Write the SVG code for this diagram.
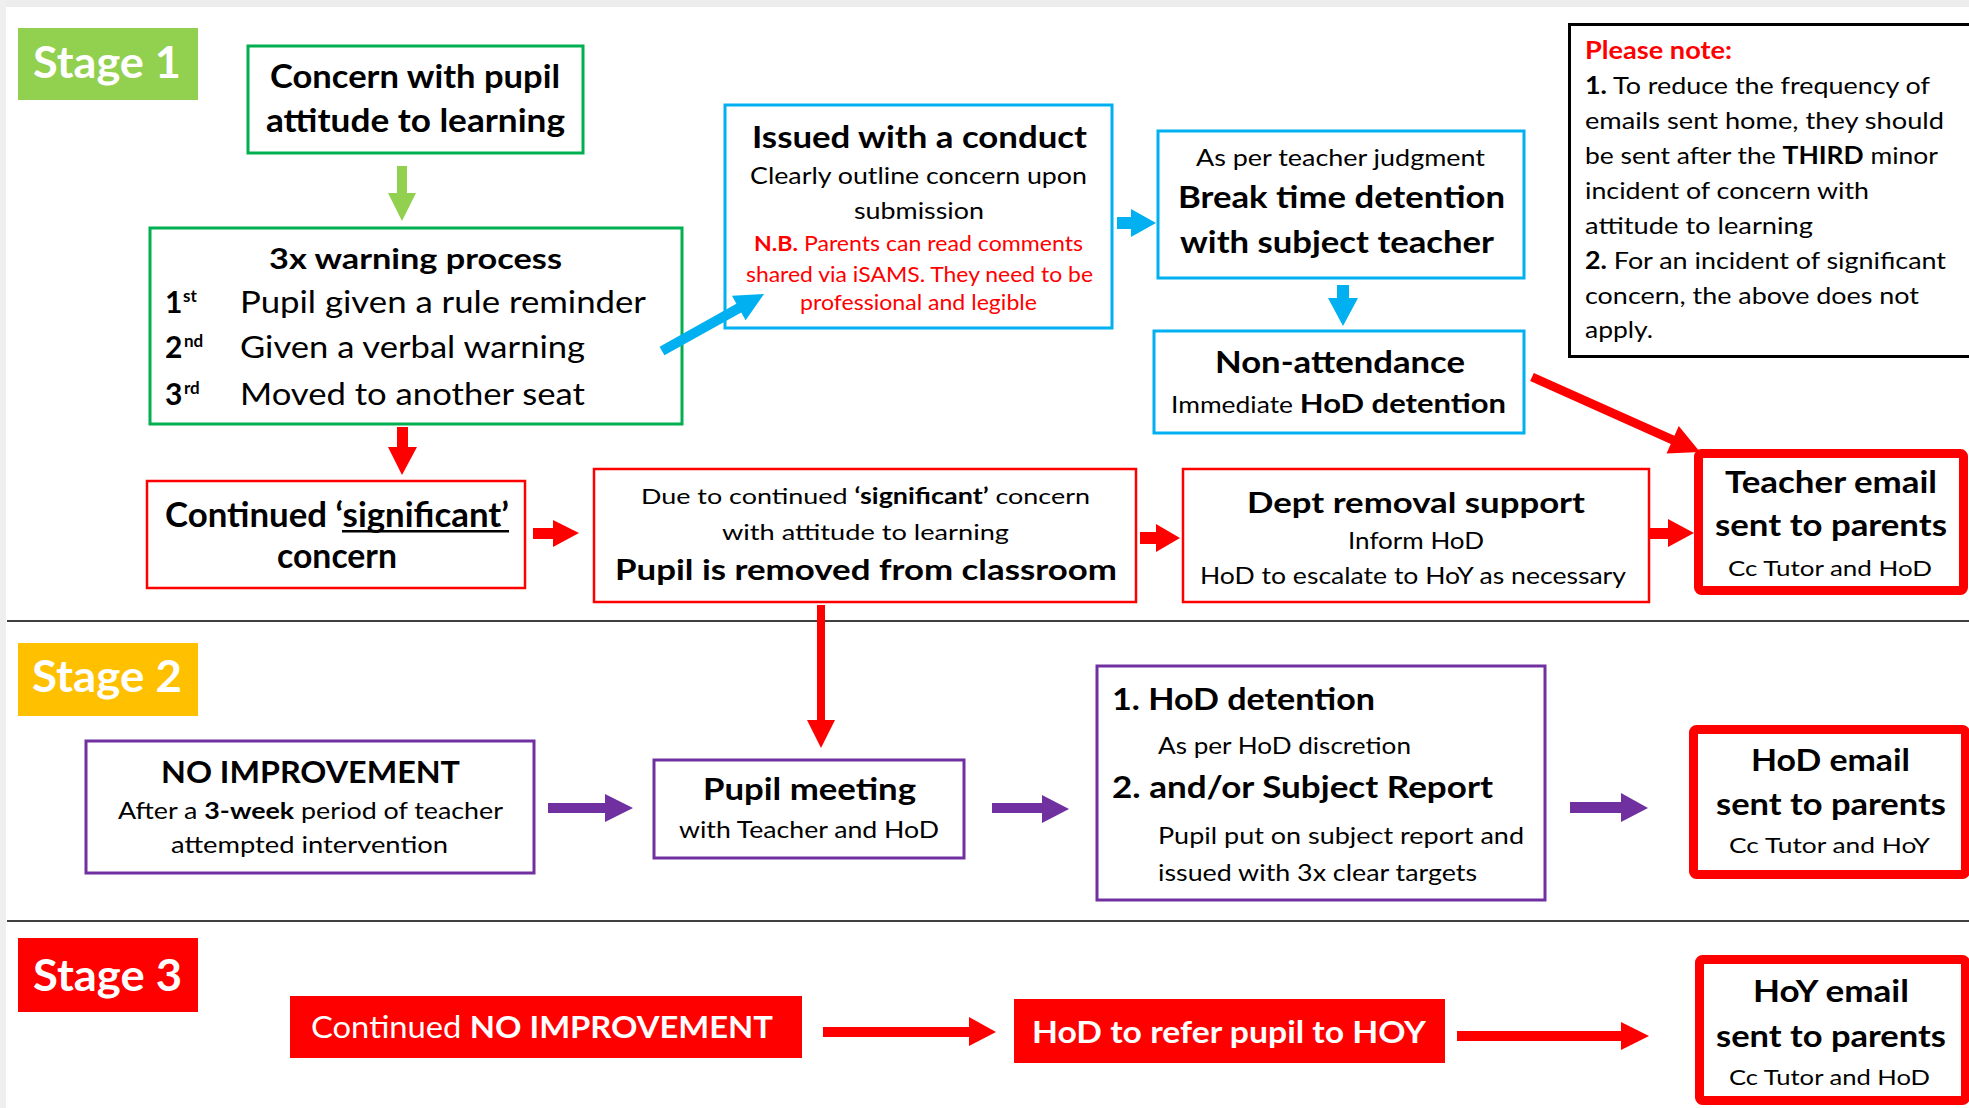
<svg xmlns="http://www.w3.org/2000/svg" width="1969" height="1108" viewBox="0 0 1969 1108">
<style>
text{font-family:Lato,"Open Sans","Liberation Sans",sans-serif;fill:#000}
.b{font-weight:700}
.w{fill:#fff}
.r{fill:#FF0000}
.gbox{fill:#fff;stroke:#00B050;stroke-width:3}
.bbox{fill:#fff;stroke:#00B0F0;stroke-width:3}
.rbox{fill:#fff;stroke:#FF0000;stroke-width:2.5}
.pbox{fill:#fff;stroke:#7030A0;stroke-width:3}
.tbox{fill:#fff;stroke:#FF0000;stroke-width:9}
.div{stroke:#404040;stroke-width:2}
</style>
<rect x="0" y="0" width="1969" height="1108" fill="#fff"/>
<rect x="0" y="0" width="1969" height="7" fill="#EDEDED"/>
<rect x="0" y="0" width="6" height="1108" fill="#EFEFEF"/>
<line class="div" x1="7" y1="621" x2="1969" y2="621"/>
<line class="div" x1="7" y1="921" x2="1969" y2="921"/>

<g id="stage1"><rect x="18" y="28" width="180" height="72" fill="#92D050"/><text class="b w" x="33" y="78" font-size="43" textLength="148" lengthAdjust="spacingAndGlyphs">Stage 1</text></g>
<g id="stage2"><rect x="18" y="643" width="180" height="73" fill="#FFC000"/><text class="b w" x="32" y="692" font-size="43" textLength="150" lengthAdjust="spacingAndGlyphs">Stage 2</text></g>
<g id="stage3"><rect x="18" y="938" width="180" height="74" fill="#FF0000"/><text class="b w" x="33" y="991" font-size="43" textLength="149" lengthAdjust="spacingAndGlyphs">Stage 3</text></g>

<g id="concern"><rect class="gbox" x="248" y="46" width="335" height="107"/>
<text class="b" x="270" y="88" font-size="33" textLength="290" lengthAdjust="spacingAndGlyphs">Concern with pupil</text>
<text class="b" x="266" y="132" font-size="33" textLength="299" lengthAdjust="spacingAndGlyphs">attitude to learning</text></g>

<g id="warning"><rect class="gbox" x="150" y="228" width="532" height="196"/>
<text class="b" x="269" y="269" font-size="29" textLength="293" lengthAdjust="spacingAndGlyphs">3x warning process</text>
<text class="b" x="165" y="313" font-size="30">1</text><text class="b" x="183" y="302" font-size="17">st</text>
<text x="240" y="313" font-size="30" textLength="406" lengthAdjust="spacingAndGlyphs">Pupil given a rule reminder</text>
<text class="b" x="165" y="358" font-size="30">2</text><text class="b" x="184" y="347" font-size="17">nd</text>
<text x="240" y="358" font-size="30" textLength="345" lengthAdjust="spacingAndGlyphs">Given a verbal warning</text>
<text class="b" x="165" y="405" font-size="30">3</text><text class="b" x="184" y="394" font-size="17">rd</text>
<text x="240" y="405" font-size="30" textLength="345" lengthAdjust="spacingAndGlyphs">Moved to another seat</text></g>

<g id="continued"><rect class="rbox" x="147" y="481" width="378" height="107"/>
<text class="b" x="165" y="527" font-size="34" textLength="344" lengthAdjust="spacingAndGlyphs">Continued ‘significant’</text>
<rect x="342" y="530" width="167" height="2.5" fill="#000"/>
<text class="b" x="277" y="568" font-size="34" textLength="120" lengthAdjust="spacingAndGlyphs">concern</text></g>

<g id="removed"><rect class="rbox" x="594" y="469" width="542" height="133"/>
<text x="641" y="504" font-size="22" textLength="449" lengthAdjust="spacingAndGlyphs">Due to continued <tspan class="b">‘significant’</tspan> concern</text>
<text x="722" y="540" font-size="22" textLength="287" lengthAdjust="spacingAndGlyphs">with attitude to learning</text>
<text class="b" x="615" y="580" font-size="29" textLength="502" lengthAdjust="spacingAndGlyphs">Pupil is removed from classroom</text></g>

<g id="dept"><rect class="rbox" x="1183" y="469" width="466" height="133"/>
<text class="b" x="1247" y="513" font-size="29" textLength="338" lengthAdjust="spacingAndGlyphs">Dept removal support</text>
<text x="1348" y="549" font-size="23" textLength="136" lengthAdjust="spacingAndGlyphs">Inform HoD</text>
<text x="1200" y="584" font-size="23" textLength="426" lengthAdjust="spacingAndGlyphs">HoD to escalate to HoY as necessary</text></g>

<g id="teacher-email"><rect class="tbox" x="1698.5" y="453.5" width="265" height="137" rx="3"/>
<text class="b" x="1725" y="493" font-size="31" textLength="212" lengthAdjust="spacingAndGlyphs">Teacher email</text>
<text class="b" x="1715" y="536" font-size="31" textLength="232" lengthAdjust="spacingAndGlyphs">sent to parents</text>
<text x="1728" y="576" font-size="22" textLength="204" lengthAdjust="spacingAndGlyphs">Cc Tutor and HoD</text></g>

<g id="conduct"><rect class="bbox" x="725" y="105" width="387" height="223"/>
<text class="b" x="752" y="148" font-size="30" textLength="335" lengthAdjust="spacingAndGlyphs">Issued with a conduct</text>
<text x="750" y="184" font-size="23" textLength="337" lengthAdjust="spacingAndGlyphs">Clearly outline concern upon</text>
<text x="854" y="219" font-size="23" textLength="130" lengthAdjust="spacingAndGlyphs">submission</text>
<text class="r" x="754" y="251" font-size="21" textLength="329" lengthAdjust="spacingAndGlyphs"><tspan class="b">N.B.</tspan> Parents can read comments</text>
<text class="r" x="746" y="282" font-size="21" textLength="347" lengthAdjust="spacingAndGlyphs">shared via iSAMS. They need to be</text>
<text class="r" x="800" y="310" font-size="21" textLength="237" lengthAdjust="spacingAndGlyphs">professional and legible</text></g>

<g id="break"><rect class="bbox" x="1158" y="131" width="366" height="147"/>
<text x="1196" y="166" font-size="23" textLength="289" lengthAdjust="spacingAndGlyphs">As per teacher judgment</text>
<text class="b" x="1178" y="208" font-size="31" textLength="327" lengthAdjust="spacingAndGlyphs">Break time detention</text>
<text class="b" x="1180" y="253" font-size="31" textLength="314" lengthAdjust="spacingAndGlyphs">with subject teacher</text></g>

<g id="nonattendance"><rect class="bbox" x="1154" y="331" width="370" height="102"/>
<text class="b" x="1215" y="373" font-size="31" textLength="250" lengthAdjust="spacingAndGlyphs">Non-attendance</text>
<text x="1171" y="413" font-size="23" textLength="335" lengthAdjust="spacingAndGlyphs">Immediate <tspan class="b" font-size="27">HoD detention</tspan></text></g>

<g id="note"><rect x="1569.5" y="24.5" width="420" height="332" fill="#fff" stroke="#000" stroke-width="3"/>
<text class="b r" x="1585" y="59" font-size="24" textLength="147" lengthAdjust="spacingAndGlyphs">Please note:</text>
<text x="1585" y="94" font-size="24" textLength="345" lengthAdjust="spacingAndGlyphs"><tspan class="b">1.</tspan> To reduce the frequency of</text>
<text x="1585" y="129" font-size="24" textLength="359" lengthAdjust="spacingAndGlyphs">emails sent home, they should</text>
<text x="1585" y="164" font-size="24" textLength="353" lengthAdjust="spacingAndGlyphs">be sent after the <tspan class="b">THIRD</tspan> minor</text>
<text x="1585" y="199" font-size="24" textLength="284" lengthAdjust="spacingAndGlyphs">incident of concern with</text>
<text x="1585" y="234" font-size="24" textLength="228" lengthAdjust="spacingAndGlyphs">attitude to learning</text>
<text x="1585" y="269" font-size="24" textLength="361" lengthAdjust="spacingAndGlyphs"><tspan class="b">2.</tspan> For an incident of significant</text>
<text x="1585" y="304" font-size="24" textLength="334" lengthAdjust="spacingAndGlyphs">concern, the above does not</text>
<text x="1585" y="338" font-size="24" textLength="68" lengthAdjust="spacingAndGlyphs">apply.</text></g>

<g id="no-improvement"><rect class="pbox" x="86" y="741" width="448" height="132"/>
<text class="b" x="161" y="783" font-size="30" textLength="299" lengthAdjust="spacingAndGlyphs">NO IMPROVEMENT</text>
<text x="118" y="819" font-size="23" textLength="385" lengthAdjust="spacingAndGlyphs">After a <tspan class="b">3-week</tspan> period of teacher</text>
<text x="171" y="853" font-size="23" textLength="277" lengthAdjust="spacingAndGlyphs">attempted intervention</text></g>

<g id="pupil-meeting"><rect class="pbox" x="654" y="760" width="310" height="98"/>
<text class="b" x="703" y="800" font-size="31" textLength="213" lengthAdjust="spacingAndGlyphs">Pupil meeting</text>
<text x="679" y="838" font-size="23" textLength="260" lengthAdjust="spacingAndGlyphs">with Teacher and HoD</text></g>

<g id="hod-detention"><rect class="pbox" x="1097" y="666" width="448" height="234"/>
<text class="b" x="1112" y="710" font-size="31" textLength="263" lengthAdjust="spacingAndGlyphs">1. HoD detention</text>
<text x="1158" y="754" font-size="23" textLength="253" lengthAdjust="spacingAndGlyphs">As per HoD discretion</text>
<text class="b" x="1112" y="798" font-size="31" textLength="381" lengthAdjust="spacingAndGlyphs">2. and/or Subject Report</text>
<text x="1158" y="844" font-size="23" textLength="366" lengthAdjust="spacingAndGlyphs">Pupil put on subject report and</text>
<text x="1158" y="881" font-size="23" textLength="319" lengthAdjust="spacingAndGlyphs">issued with 3x clear targets</text></g>

<g id="hod-email"><rect class="tbox" x="1693.5" y="729.5" width="272" height="145" rx="3"/>
<text class="b" x="1751" y="771" font-size="31" textLength="159" lengthAdjust="spacingAndGlyphs">HoD email</text>
<text class="b" x="1716" y="815" font-size="31" textLength="230" lengthAdjust="spacingAndGlyphs">sent to parents</text>
<text x="1729" y="853" font-size="22" textLength="201" lengthAdjust="spacingAndGlyphs">Cc Tutor and HoY</text></g>

<g id="continued-no-improvement"><rect x="290" y="996" width="512" height="62" fill="#FF0000"/>
<text class="w" x="311" y="1038" font-size="30" textLength="462" lengthAdjust="spacingAndGlyphs">Continued <tspan class="b">NO IMPROVEMENT</tspan></text></g>

<g id="refer-hoy"><rect x="1014" y="999" width="431" height="64" fill="#FF0000"/>
<text class="b w" x="1032" y="1043" font-size="31" textLength="394" lengthAdjust="spacingAndGlyphs">HoD to refer pupil to HOY</text></g>

<g id="hoy-email"><rect class="tbox" x="1699.5" y="959.5" width="266" height="141" rx="3"/>
<text class="b" x="1753" y="1002" font-size="31" textLength="156" lengthAdjust="spacingAndGlyphs">HoY email</text>
<text class="b" x="1716" y="1047" font-size="31" textLength="230" lengthAdjust="spacingAndGlyphs">sent to parents</text>
<text x="1729" y="1085" font-size="22" textLength="201" lengthAdjust="spacingAndGlyphs">Cc Tutor and HoD</text></g>

<g id="connectors">
<polygon fill="#92D050" points="397,166 407,166 407,193 416,193 402,221 388,193 397,193"/>
<polygon fill="#FF0000" points="397,427 408,427 408,447 417,447 402,475 388,447 397,447"/>
<g transform="translate(662,351) rotate(-29.2)"><polygon fill="#00B0F0" points="0,-5 88,-5 88,-14 117,0 88,14 88,5 0,5"/></g>
<polygon fill="#00B0F0" points="1117,217 1131,217 1131,209 1156,223 1131,237 1131,229 1117,229"/>
<polygon fill="#00B0F0" points="1337,285 1349,285 1349,298 1358,298 1343,326 1328,298 1337,298"/>
<g transform="translate(1532,377) rotate(24.06)"><polygon fill="#FF0000" points="0,-4.5 154,-4.5 154,-15 184,0 154,15 154,4.5 0,4.5"/></g>
<polygon fill="#FF0000" points="533,528 553,528 553,520 579,533 553,547 553,539 533,539"/>
<polygon fill="#FF0000" points="1140,532 1156,532 1156,524 1180,538 1156,552 1156,544 1140,544"/>
<polygon fill="#FF0000" points="1650,528 1668,528 1668,519 1694,533 1668,547 1668,539 1650,539"/>
<polygon fill="#FF0000" points="817,605 825,605 825,720 835,720 821,748 807,720 817,720"/>
<polygon fill="#7030A0" points="548,803 605,803 605,794 633,808 605,822 605,813 548,813"/>
<polygon fill="#7030A0" points="992,803 1042,803 1042,795 1069,809 1042,823 1042,813 992,813"/>
<polygon fill="#7030A0" points="1570,802 1621,802 1621,793 1648,808 1621,822 1621,813 1570,813"/>
<polygon fill="#FF0000" points="823,1027 969,1027 969,1017 996,1032 969,1046 969,1037 823,1037"/>
<polygon fill="#FF0000" points="1457,1031 1621,1031 1621,1022 1649,1036 1621,1050 1621,1041 1457,1041"/>
</g>
</svg>
